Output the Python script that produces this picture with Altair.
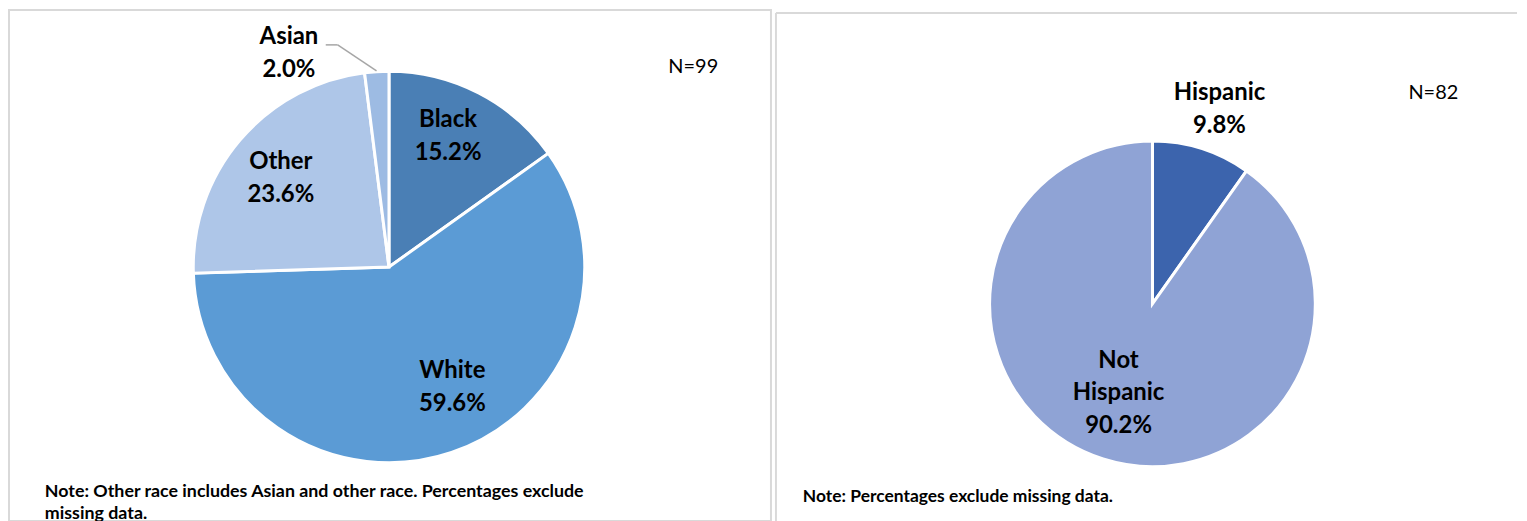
import altair as alt
import pandas as pd

# ---- data ----
race_cats = ["Black", "White", "Other", "Asian"]
race_pct = [15.2, 59.6, 23.6, 2.0]
race_colors = ["#4a7fb5", "#5b9bd5", "#aec6e8", "#9dbbe3"]

eth_cats = ["Hispanic", "Not Hispanic"]
eth_pct = [9.8, 90.2]
eth_colors = ["#3c64ad", "#8fa3d5"]

left_n = "N=99"
right_n = "N=82"
left_note = "Note: Other race includes Asian and other race. Percentages exclude\nmissing data."
right_note = "Note: Percentages exclude missing data."

FONT = "Lato"
TAU = 6.283185307179586
BORDER = "#d9d9d9"


def pie_layers(cats, pct, colors, cx, cy, R, r_expr, off_expr):
    df = pd.DataFrame({"cat": cats, "pct": pct, "idx": list(range(len(cats)))})
    base = (
        alt.Chart(df)
        .transform_window(cum="sum(pct)", sort=[alt.SortField("idx")])
        .transform_joinaggregate(total="sum(pct)")
        .transform_calculate(
            s="(datum.cum - datum.pct) / datum.total",
            e="datum.cum / datum.total",
            m=f"(datum.cum - datum.pct / 2) / datum.total + ({off_expr}) / 360",
            r=r_expr,
            lab="replace(datum.cat, ' ', '\\n') + '\\n' + format(datum.pct, '.1f') + '%'",
        )
    )
    tscale = alt.Scale(domain=[0, 1], range=[0, TAU])
    arcs = base.mark_arc(outerRadius=R, stroke="white", strokeWidth=3).encode(
        theta=alt.Theta("s:Q", scale=tscale),
        theta2="e:Q",
        color=alt.Color("cat:N", scale=alt.Scale(domain=cats, range=colors), legend=None),
        x=alt.value(cx),
        y=alt.value(cy),
    )
    labels = base.mark_text(
        font=FONT, fontSize=24, fontWeight="bold", color="black",
        lineBreak="\n", lineHeight=33, align="center", baseline="middle",
    ).encode(
        theta=alt.Theta("m:Q", scale=tscale),
        radius=alt.Radius("r:Q", scale=None),
        text="lab:N",
        x=alt.value(cx),
        y=alt.value(cy),
    )
    return arcs, labels


def text_layer(txt, x, y, size, weight, align="left", lh=22):
    df = pd.DataFrame({"t": [txt]})
    return alt.Chart(df).mark_text(
        font=FONT, fontSize=size, fontWeight=weight, color="black",
        align=align, baseline="alphabetic", lineBreak="\n", lineHeight=lh,
    ).encode(x=alt.value(x), y=alt.value(y), text="t:N")


LW, RW, H = 765, 744, 513

# ---- left panel ----
l_arcs, l_labels = pie_layers(
    race_cats, race_pct, race_colors, 381.5, 258, 196.5,
    "datum.cat == 'Black' ? 158.6 : datum.cat == 'White' ? 122.7 : datum.cat == 'Other' ? 151 : 252",
    "datum.cat == 'Black' ? -5.3 : datum.cat == 'White' ? -12.6 : datum.cat == 'Other' ? 3.5 : -19.9",
)
leader_df = pd.DataFrame({"k": [0]})
leader1 = alt.Chart(leader_df).mark_rule(color="#a6a6a6", strokeWidth=1.5).encode(
    x=alt.value(318), x2=alt.value(330), y=alt.value(35), y2=alt.value(35)
)
leader2 = alt.Chart(leader_df).mark_rule(color="#a6a6a6", strokeWidth=1.5).encode(
    x=alt.value(330), x2=alt.value(369), y=alt.value(35), y2=alt.value(61)
)
left = alt.layer(
    l_arcs, l_labels, leader1, leader2,
    text_layer(left_n, 687, 63, 20, "normal", align="center"),
    text_layer(left_note, 36, 489, 17.9, "bold", lh=22),
).properties(width=LW, height=H, view=alt.ViewBackground(stroke=BORDER, strokeWidth=2))

# ---- right panel ----
r_arcs, r_labels = pie_layers(
    eth_cats, eth_pct, eth_colors, 378, 295, 163.5,
    "datum.cat == 'Hispanic' ? 222 : 66.4",
    "datum.cat == 'Hispanic' ? 0 : 13.2",
)
border_df = pd.DataFrame({"k": [0]})
top_border = alt.Chart(border_df).mark_rule(color=BORDER, strokeWidth=2).encode(
    x=alt.value(0), x2=alt.value(RW), y=alt.value(3), y2=alt.value(3)
)
left_border = alt.Chart(border_df).mark_rule(color=BORDER, strokeWidth=2).encode(
    x=alt.value(0), x2=alt.value(0), y=alt.value(3), y2=alt.value(H)
)
right = alt.layer(
    top_border, left_border, r_arcs, r_labels,
    text_layer(right_n, 660, 89, 20, "normal", align="center"),
    text_layer(right_note, 27, 494, 17.5, "bold"),
).properties(width=RW, height=H)

chart = (
    alt.hconcat(left, right, spacing=2)
    .resolve_scale(color="independent")
    .properties(padding=0)
    .configure_view(stroke="transparent")
)

chart.save("out.html", embed_options={"renderer": "svg", "actions": False})
